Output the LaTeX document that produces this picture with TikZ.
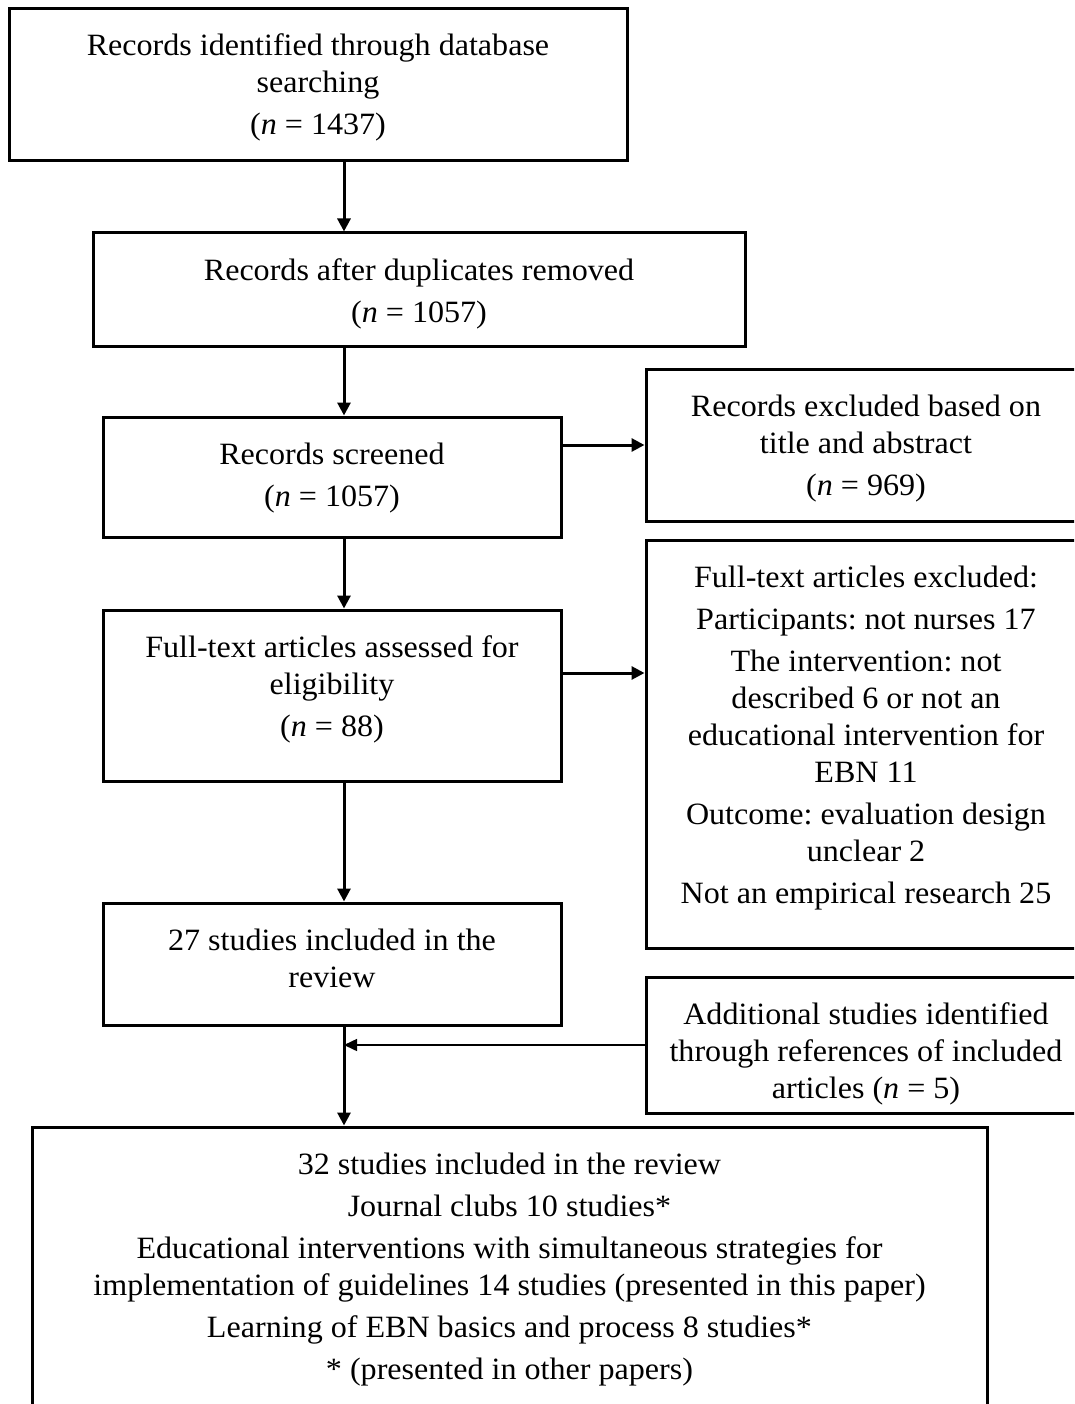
\documentclass[tikz,border=0pt]{standalone}
\usepackage{fontspec}
\setmainfont{Liberation Serif}[FakeStretch=1.035]
\usetikzlibrary{arrows.meta}
\frenchspacing
\newcommand\bxt[3]{\parbox[c][#2][t]{#1}{\frenchspacing\vspace*{22pt}\centering\rule{0pt}{25pt}#3}}
\begin{document}
\begin{tikzpicture}[x=1pt,y=-1pt,
  box/.style={draw,line width=3pt,inner sep=0pt,rectangle,font=\fontsize{31}{37}\selectfont},
  arr/.style={line width=3pt,-{Triangle[length=13pt,width=13pt]}},
  thinarr/.style={line width=1.5pt,-{Triangle[length=13pt,width=12pt]}}]
\useasboundingbox (0,0) rectangle (1074,1404);
\clip (0,0) rectangle (1074,1404);
\coordinate (ax) at (344,0);
\coordinate (r5) at (0,673);
\node[box] (b1) at (318,85) {\bxt{618pt}{152pt}{Records identified through database\\ searching\\[5pt] (\textit{n} = 1437)}};
\node[box] (b2) at (419,289.5) {\bxt{652pt}{113pt}{Records after duplicates removed\\[5pt] (\textit{n} = 1057)}};
\node[box] (b3) at (332,477) {\bxt{458pt}{120pt}{Records screened\\[5pt] (\textit{n} = 1057)}};
\node[box] (b4) at (866,445) {\bxt{440pt}{152pt}{Records excluded based on\\ title and abstract\\[5pt] (\textit{n} = 969)}};
\node[box] (b5) at (332,695.5) {\bxt{458pt}{171pt}{Full-text articles assessed for\\ eligibility\\[5pt] (\textit{n} = 88)}};
\node[box] (b6) at (866,744) {\bxt{440pt}{408pt}{Full-text articles excluded:\\[5pt] Participants: not nurses 17\\[5pt] The intervention: not\\ described 6 or not an\\ educational intervention for\\ EBN 11\\[5pt] Outcome: evaluation design\\ unclear 2\\[5pt] Not an empirical research 25}};
\node[box] (b7) at (332,964) {\bxt{458pt}{122pt}{27 studies included in the\\ review}};
\node[box] (b8) at (866,1045) {\bxt{440pt}{136pt}{Additional studies identified\\ through references of included\\ articles (\textit{n} = 5)}};
\node[box] (b9) at (509.5,1277) {\bxt{955pt}{300pt}{32 studies included in the review\\[5pt] Journal clubs 10 studies*\\[5pt] Educational interventions with simultaneous strategies for\\ implementation of guidelines 14 studies (presented in this paper)\\[5pt] Learning of EBN basics and process 8 studies*\\[5pt] * (presented in other papers)}};
\draw[arr] (b1.south -| ax) -- (b2.north -| ax);
\draw[arr] (b2.south -| ax) -- (b3.north -| ax);
\draw[arr] (b3.south -| ax) -- (b5.north -| ax);
\draw[arr] (b5.south -| ax) -- (b7.north -| ax);
\draw[arr] (b7.south -| ax) -- (b9.north -| ax);
\draw[arr] (b3.east |- b4.west) -- (b4.west);
\draw[arr] (b5.east |- r5) -- (b6.west |- r5);
\draw[thinarr] (b8.west) -- (b8.west -| ax);
\end{tikzpicture}
\end{document}
